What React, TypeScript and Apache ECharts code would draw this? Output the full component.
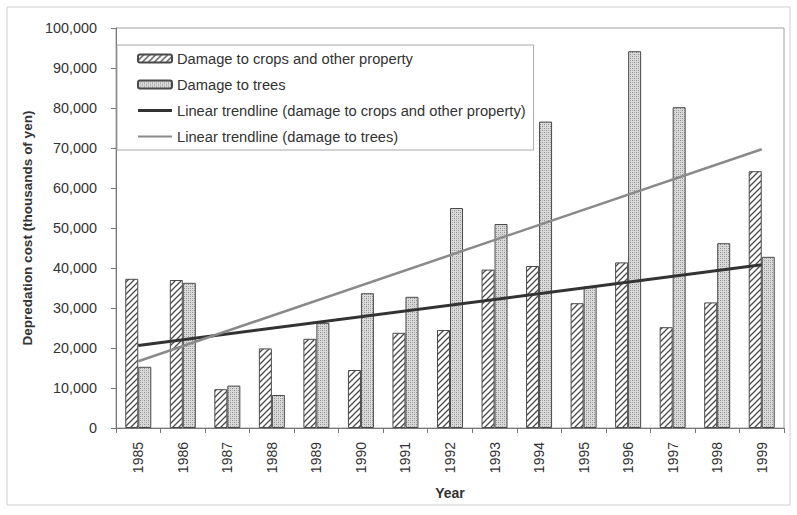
import React, { useEffect, useRef } from "react";
import * as echarts from "echarts";

const years = ["1985","1986","1987","1988","1989","1990","1991","1992","1993","1994","1995","1996","1997","1998","1999"];
const cropsDamage = [37300, 37000, 9700, 19900, 22300, 14500, 23800, 24500, 39600, 40500, 31200, 41400, 25200, 31400, 64200];
const treesDamage = [15300, 36300, 10600, 8250, 26300, 33700, 32800, 55000, 51000, 76600, 35400, 94200, 80200, 46200, 42800];
// trendline end values (1985, 1999)
const trendCrops = [20600, 40800];
const trendTrees = [16700, 69700];
const yTicks = { min: 0, max: 100000, interval: 10000 };

const NAME_CROPS = "Damage to crops and other property";
const NAME_TREES = "Damage to trees";
const NAME_TC = "Linear trendline (damage to crops and other property)";
const NAME_TT = "Linear trendline (damage to trees)";

function makeHatch(): HTMLCanvasElement {
  const s = 6;
  const c = document.createElement("canvas");
  c.width = s; c.height = s;
  const g = c.getContext("2d")!;
  g.fillStyle = "#ffffff";
  g.fillRect(0, 0, s, s);
  g.strokeStyle = "#4a4a4a";
  g.lineWidth = 1.3;
  g.beginPath();
  g.moveTo(-1, s + 1); g.lineTo(s + 1, -1);
  g.moveTo(-s / 2 - 1, s / 2 + 1); g.lineTo(s / 2 + 1, -s / 2 - 1);
  g.moveTo(s / 2 - 1, s * 1.5 + 1); g.lineTo(s * 1.5 + 1, s / 2 - 1);
  g.stroke();
  return c;
}

function makeStipple(): HTMLCanvasElement {
  const c = document.createElement("canvas");
  c.width = 4; c.height = 4;
  const g = c.getContext("2d")!;
  g.fillStyle = "#dadada";
  g.fillRect(0, 0, 4, 4);
  g.fillStyle = "#8c8c8c";
  g.fillRect(0, 0, 1, 1);
  g.fillRect(2, 2, 1, 1);
  g.fillStyle = "#b0b0b0";
  g.fillRect(2, 0, 1, 1);
  g.fillRect(0, 2, 1, 1);
  return c;
}

export default function App() {
  const ref = useRef<HTMLDivElement>(null);
  useEffect(() => {
    if (!ref.current) return;
    const chart = echarts.init(ref.current, undefined, { renderer: "svg" });
    const hatch = { image: makeHatch(), repeat: "repeat" } as any;
    const stipple = { image: makeStipple(), repeat: "repeat" } as any;
    const last = years.length - 1;
    const trendData = (ends: number[]) => years.map((_, i) => (i === 0 ? ends[0] : i === last ? ends[1] : null));
    const font = "Liberation Sans, Arial, sans-serif";
    const darkLine = "#333333";
    const grayLine = "#8a8a8a";
    chart.setOption({
      animation: false,
      backgroundColor: "#ffffff",
      textStyle: { fontFamily: font },
      graphic: [
        {
          type: "rect",
          shape: { x: 7, y: 7, width: 783, height: 498 },
          style: { fill: "none", stroke: "#cfcfcf", lineWidth: 1 },
          silent: true,
        },
      ],
      grid: { left: 116, right: 13, top: 28, bottom: 87, show: true, borderColor: "#a0a0a0", borderWidth: 1, backgroundColor: "transparent" },
      legend: {
        orient: "vertical",
        left: 117,
        top: 45,
        padding: [5, 8, 5, 20],
        borderColor: "#a8a8a8",
        borderWidth: 1,
        itemWidth: 34,
        itemHeight: 8,
        itemGap: 9,
        textStyle: { fontSize: 14.7, color: "#333", fontFamily: font, lineHeight: 17 },
        data: [
          { name: NAME_CROPS },
          { name: NAME_TREES },
          { name: NAME_TC, icon: "path://M0,0L34,0L34,3L0,3Z", itemStyle: { color: darkLine, borderWidth: 0 } },
          { name: NAME_TT, icon: "path://M0,0L34,0L34,2L0,2Z", itemStyle: { color: grayLine, borderWidth: 0 } },
        ],
      },
      xAxis: {
        type: "category",
        data: years,
        name: "Year",
        nameLocation: "middle",
        nameGap: 58,
        nameTextStyle: { fontSize: 14, fontWeight: "bold", color: "#333", fontFamily: font },
        axisLine: { lineStyle: { color: "#777" } },
        axisTick: { show: true, length: 5, lineStyle: { color: "#777" } },
        axisLabel: { rotate: 90, fontSize: 14, color: "#333", margin: 14, fontFamily: font },
      },
      yAxis: {
        type: "value",
        min: yTicks.min,
        max: yTicks.max,
        interval: yTicks.interval,
        name: "Depredation cost (thousands of yen)",
        nameLocation: "middle",
        nameGap: 80,
        nameTextStyle: { fontSize: 13.5, fontWeight: "bold", color: "#333", fontFamily: font },
        axisLine: { show: true, lineStyle: { color: "#777" } },
        axisTick: { show: true, length: 5, lineStyle: { color: "#777" } },
        splitLine: { show: false },
        axisLabel: {
          fontSize: 14.4,
          color: "#333",
          margin: 19,
          fontFamily: font,
          formatter: (v: number) => v.toLocaleString("en-US"),
        },
      },
      series: [
        {
          name: NAME_CROPS,
          type: "bar",
          data: cropsDamage,
          barWidth: 13,
          barGap: "0%",
          itemStyle: { color: hatch, borderColor: "#4a4a4a", borderWidth: 1 },
        },
        {
          name: NAME_TREES,
          type: "bar",
          data: treesDamage,
          barWidth: 13,
          barGap: "0%",
          itemStyle: { color: stipple, borderColor: "#4a4a4a", borderWidth: 1 },
        },
        {
          name: NAME_TC,
          type: "line",
          data: trendData(trendCrops),
          connectNulls: true,
          symbol: "none",
          lineStyle: { color: darkLine, width: 3 },
          itemStyle: { color: darkLine },
          z: 5,
        },
        {
          name: NAME_TT,
          type: "line",
          data: trendData(trendTrees),
          connectNulls: true,
          symbol: "none",
          lineStyle: { color: grayLine, width: 2.5 },
          itemStyle: { color: grayLine },
          z: 5,
        },
      ],
    });
    return () => chart.dispose();
  }, []);
  return <div ref={ref} style={{ position: "absolute", left: 0, top: 0, width: 797, height: 515 }} />;
}
